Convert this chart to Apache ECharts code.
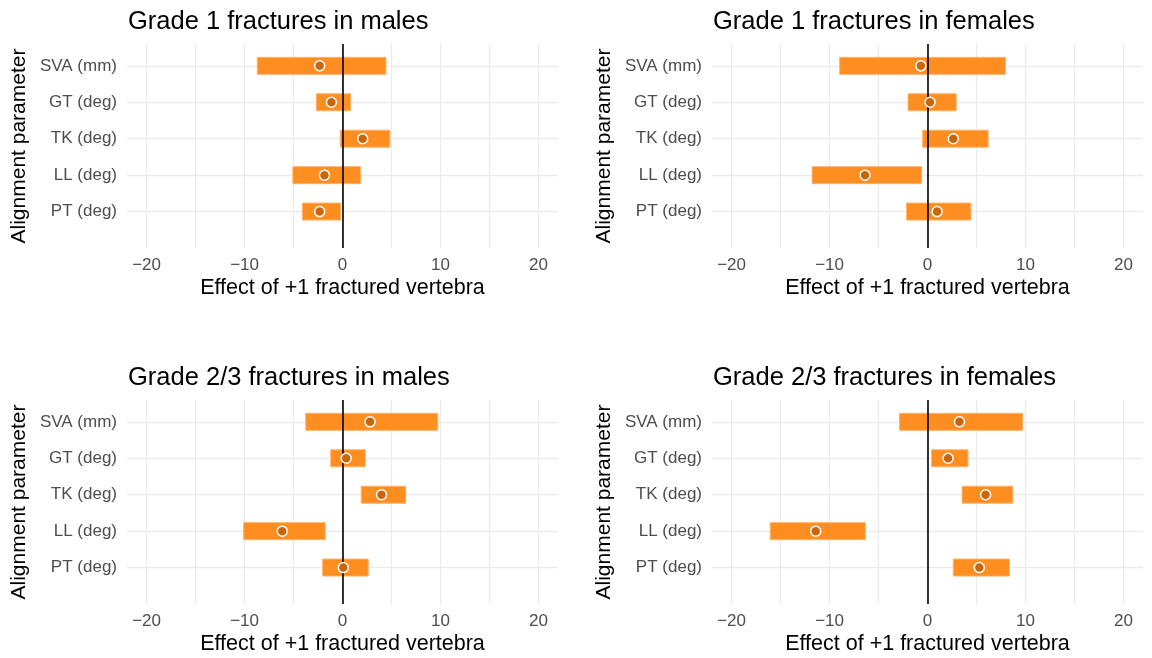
<!DOCTYPE html>
<html>
<head>
<meta charset="utf-8">
<script src="https://cdn.jsdelivr.net/npm/echarts@6/dist/echarts.min.js"></script>
<style>
html,body{margin:0;padding:0;background:#fff;}
#chart{width:1152px;height:658px;}
</style>
</head>
<body>
<div id="chart"></div>
<script>
// Categories (top to bottom)
const categories = ['SVA (mm)', 'GT (deg)', 'TK (deg)', 'LL (deg)', 'PT (deg)'];
const panelTitles = ['Grade 1 fractures in males', 'Grade 1 fractures in females',
                     'Grade 2/3 fractures in males', 'Grade 2/3 fractures in females'];
const xTickLabels = [-20, -10, 0, 10, 20];
const xGridValues = [-20, -15, -10, -5, 0, 5, 10, 15, 20];

// Grade 1, males
const g1mLow  = [-8.7, -2.66, -0.23, -5.07, -4.09];
const g1mEst  = [-2.33, -1.13, 2.06, -1.84, -2.33];
const g1mHigh = [4.43, 0.83, 4.84, 1.84, -0.19];
// Grade 1, females
const g1fLow  = [-8.97, -1.99, -0.49, -11.78, -2.14];
const g1fEst  = [-0.68, 0.26, 2.63, -6.38, 0.98];
const g1fHigh = [7.95, 2.93, 6.19, -0.6, 4.43];
// Grade 2/3, males
const g23mLow  = [-3.75, -1.2, 1.91, -10.09, -2.03];
const g23mEst  = [2.81, 0.38, 3.98, -6.15, 0.08];
const g23mHigh = [9.72, 2.33, 6.45, -1.76, 2.63];
// Grade 2/3, females
const g23fLow  = [-2.85, 0.41, 3.53, -16.06, 2.63];
const g23fEst  = [3.26, 2.1, 5.93, -11.41, 5.29];
const g23fHigh = [9.72, 4.13, 8.71, -6.34, 8.37];

const panels = [
  {low: g1mLow, est: g1mEst, high: g1mHigh},
  {low: g1fLow, est: g1fEst, high: g1fHigh},
  {low: g23mLow, est: g23mEst, high: g23mHigh},
  {low: g23fLow, est: g23fEst, high: g23fHigh}
];

const FONT = '"Liberation Sans", Arial, Helvetica, sans-serif';
const layout = [
  {left: 127, top: 44},
  {left: 712, top: 44},
  {left: 127, top: 400},
  {left: 712, top: 400}
];
const GW = 431, GH = 204;
const nCat = categories.length;

const option = {
  backgroundColor: '#ffffff',
  animation: false,
  textStyle: {fontFamily: FONT},
  title: [], grid: [], xAxis: [], yAxis: [], series: []
};

panels.forEach((p, i) => {
  const L = layout[i];
  option.title.push({
    text: panelTitles[i], left: L.left - 4, top: L.top - 40,
    textStyle: {fontFamily: FONT, fontSize: 25.5, fontWeight: 'normal', color: '#000'}
  });
  option.grid.push({left: L.left, top: L.top, width: GW, height: GH, containLabel: false});
  option.xAxis.push({
    type: 'value', gridIndex: i, min: -22, max: 22,
    name: 'Effect of +1 fractured vertebra', nameLocation: 'middle', nameGap: 29,
    nameTextStyle: {fontFamily: FONT, fontSize: 21.5, color: '#000'},
    axisLine: {show: false},
    axisTick: {show: false, customValues: xGridValues},
    axisLabel: {
      customValues: xTickLabels, margin: 9,
      fontFamily: FONT, fontSize: 17, color: '#4D4D4D',
      formatter: v => (v < 0 ? '\u2212' + Math.abs(v) : String(v))
    },
    splitLine: {show: true, lineStyle: {color: '#EBEBEB', width: 1.3}}
  });
  option.yAxis.push({
    type: 'value', gridIndex: i, min: 0, max: nCat + 0.6,
    name: 'Alignment parameter', nameLocation: 'middle', nameGap: 97, nameRotate: 90,
    nameTextStyle: {fontFamily: FONT, fontSize: 21, color: '#000'},
    axisLine: {show: false},
    axisTick: {show: false, customValues: categories.map((c, k) => nCat - k)},
    axisLabel: {
      customValues: categories.map((c, k) => nCat - k), margin: 10,
      fontFamily: FONT, fontSize: 17, color: '#4D4D4D',
      formatter: v => categories[nCat - v] || ''
    },
    splitLine: {show: true, lineStyle: {color: '#EBEBEB', width: 1.3}}
  });
  const rangeData = categories.map((c, k) => [nCat - k, p.low[k], p.high[k]]);
  option.series.push({
    type: 'custom', xAxisIndex: i, yAxisIndex: i, z: 2,
    encode: {x: [1, 2], y: 0},
    data: rangeData,
    renderItem: (params, api) => {
      const y = api.value(0);
      const a = api.coord([api.value(1), y]);
      const b = api.coord([api.value(2), y]);
      const h = 17;
      return {
        type: 'rect',
        shape: {x: a[0], y: a[1] - h / 2, width: b[0] - a[0], height: h},
        style: {fill: '#FF8E21', stroke: '#FFB36B', lineWidth: 1}
      };
    },
    markLine: {
      silent: true, symbol: 'none', z: 3,
      label: {show: false},
      lineStyle: {color: '#000', width: 1.6, type: 'solid'},
      data: [{xAxis: 0}]
    }
  });
  option.series.push({
    type: 'scatter', xAxisIndex: i, yAxisIndex: i, z: 5,
    symbol: 'circle', symbolSize: 10,
    itemStyle: {color: '#C9660C', borderColor: '#ffffff', borderWidth: 1.5, opacity: 1},
    data: categories.map((c, k) => [p.est[k], nCat - k])
  });
});

const chart = echarts.init(document.getElementById('chart'), null, {renderer: 'canvas'});
chart.setOption(option);
</script>
</body>
</html>
